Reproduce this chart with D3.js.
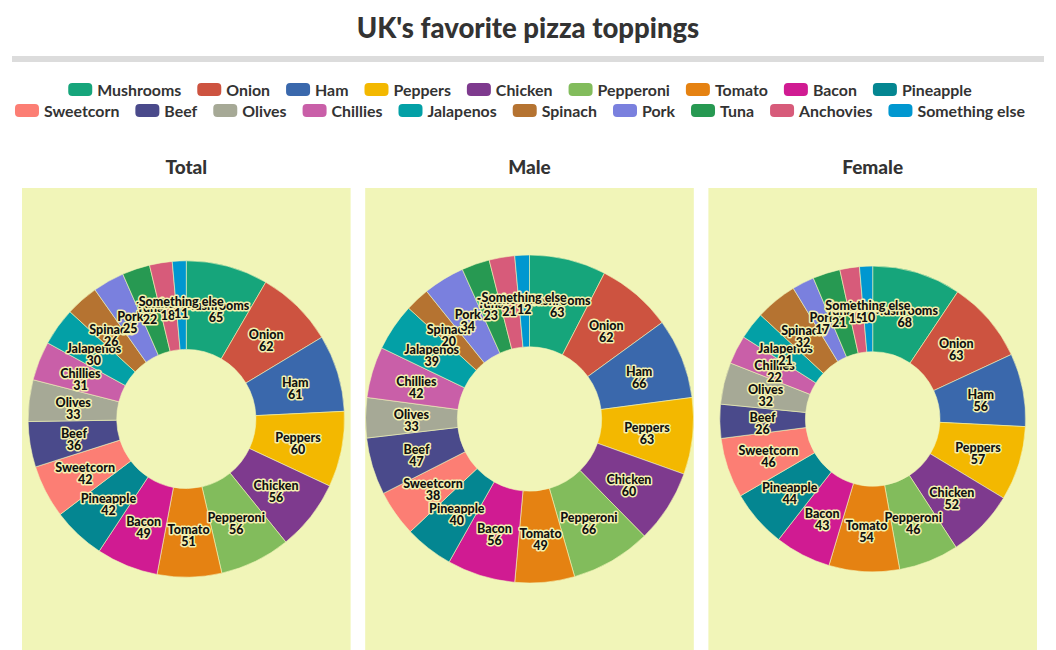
<!DOCTYPE html>
<html>
<head>
<meta charset="utf-8">
<script src="https://cdn.jsdelivr.net/npm/d3@7"></script>
<style>
  html, body { margin: 0; padding: 0; background: #fff; }
  svg { display: block; font-family: Lato, "Noto Sans", sans-serif; }
</style>
</head>
<body>
<svg id="chart" width="1056" height="650"></svg>
<script>
const categories = ["Mushrooms","Onion","Ham","Peppers","Chicken","Pepperoni","Tomato","Bacon","Pineapple",
  "Sweetcorn","Beef","Olives","Chillies","Jalapenos","Spinach","Pork","Tuna","Anchovies","Something else"];
const totalValues  = [65,62,61,60,56,56,51,49,42,42,36,33,31,30,26,25,22,18,11];
const maleValues   = [63,62,66,63,60,66,49,56,40,38,47,33,42,39,20,34,23,21,12];
const femaleValues = [68,63,56,57,52,46,54,43,44,46,26,32,22,21,32,17,21,15,10];
const colors = ["#16a57b","#cd5340","#3a68ac","#f3b800","#7e3a8e","#82bc5c","#e58212","#d01b92","#048691",
  "#fc7e74","#4a4a8b","#a6a996","#c95fa8","#03a0a6","#b57331","#7a80de","#279952","#d75b7a","#0097d0"];
const panelTitles = ["Total","Male","Female"];
const seriesList = [totalValues, maleValues, femaleValues];
const chartTitle = "UK's favorite pizza toppings";

const svg = d3.select("#chart");
const W = 1056;
const color = d3.scaleOrdinal().domain(categories).range(colors);

// Title
svg.append("text").attr("x", W/2).attr("y", 38).attr("text-anchor","middle")
  .attr("font-size", 27.5).attr("font-weight", 900).attr("fill", "#333").text(chartTitle);
svg.append("rect").attr("x", 12).attr("y", 56).attr("width", 1032).attr("height", 6).attr("fill", "#dcdcdc");

// Legend
const legendFont = 15.9, swW = 24, swH = 13, swGap = 5, itemGap = 16;
const measure = svg.append("text").attr("font-size", legendFont).attr("font-weight", 700).attr("visibility","hidden");
const widths = categories.map(c => { measure.text(c); return measure.node().getComputedTextLength(); });
measure.remove();
const rows = [categories.slice(0, 9), categories.slice(9)];
const rowBaselines = [96, 117];
const legend = svg.append("g");
let idx = 0;
rows.forEach((row, ri) => {
  const itemWidths = row.map((c, i) => swW + swGap + widths[idx + i] + itemGap);
  const rowW = d3.sum(itemWidths);
  let x = W/2 - rowW/2;
  row.forEach((c, i) => {
    const g = legend.append("g").attr("transform", `translate(${x},${rowBaselines[ri]})`);
    g.append("rect").attr("x", 0).attr("y", -13).attr("width", swW).attr("height", swH).attr("rx", 4)
      .attr("fill", color(c));
    g.append("text").attr("x", swW + swGap).attr("y", 0).attr("font-size", legendFont).attr("font-weight", 700)
      .attr("fill", "#333").text(c);
    x += itemWidths[i];
  });
  idx += row.length;
});

// Panels
const panelX = d3.scaleBand().domain(panelTitles).range([22, 1037]).paddingInner(0.0425).paddingOuter(0);
const panelTop = 188, panelBottom = 650;
const sums = seriesList.map(s => d3.sum(s));
const rScale = d3.scaleSqrt().domain([0, d3.max(sums)]).range([0, 164]);
const innerRatio = 0.44;

const pie = d3.pie().sort(null).value(d => d.value);

panelTitles.forEach((title, pi) => {
  const px = panelX(title), pw = panelX.bandwidth();
  const cx = px + pw/2, cy = (panelTop + panelBottom)/2;
  svg.append("rect").attr("x", px).attr("y", panelTop).attr("width", pw).attr("height", panelBottom - panelTop)
    .attr("fill", "#f1f5b8");
  svg.append("text").attr("x", cx).attr("y", 174).attr("text-anchor","middle").attr("font-size", 19)
    .attr("font-weight", 900).attr("fill", "#333").text(title);

  const data = categories.map((c, i) => ({ name: c, value: seriesList[pi][i] }));
  const outer = rScale(sums[pi]);
  const arc = d3.arc().innerRadius(outer * innerRatio).outerRadius(outer);
  const g = svg.append("g").attr("transform", `translate(${cx},${cy})`);
  const arcs = pie(data);
  g.selectAll("path").data(arcs).join("path")
    .attr("d", arc).attr("fill", d => color(d.data.name))
    .attr("stroke", "#f1f5b8").attr("stroke-width", 0.6);

  const labels = g.selectAll("g.lbl").data(arcs).join("g").attr("class","lbl")
    .attr("transform", d => `translate(${arc.centroid(d)})`);
  labels.each(function(d) {
    const lg = d3.select(this);
    [[d.data.name, 1], [String(d.data.value), 13]].forEach(([t, dy]) => {
      lg.append("text").attr("y", dy).attr("text-anchor","middle").attr("font-size", 12.5)
        .attr("font-weight", 900).attr("fill", "#111")
        .attr("stroke", "#f3f0b0").attr("stroke-width", 3).attr("stroke-linejoin","round")
        .attr("paint-order", "stroke").text(t);
    });
  });
});
</script>
</body>
</html>
